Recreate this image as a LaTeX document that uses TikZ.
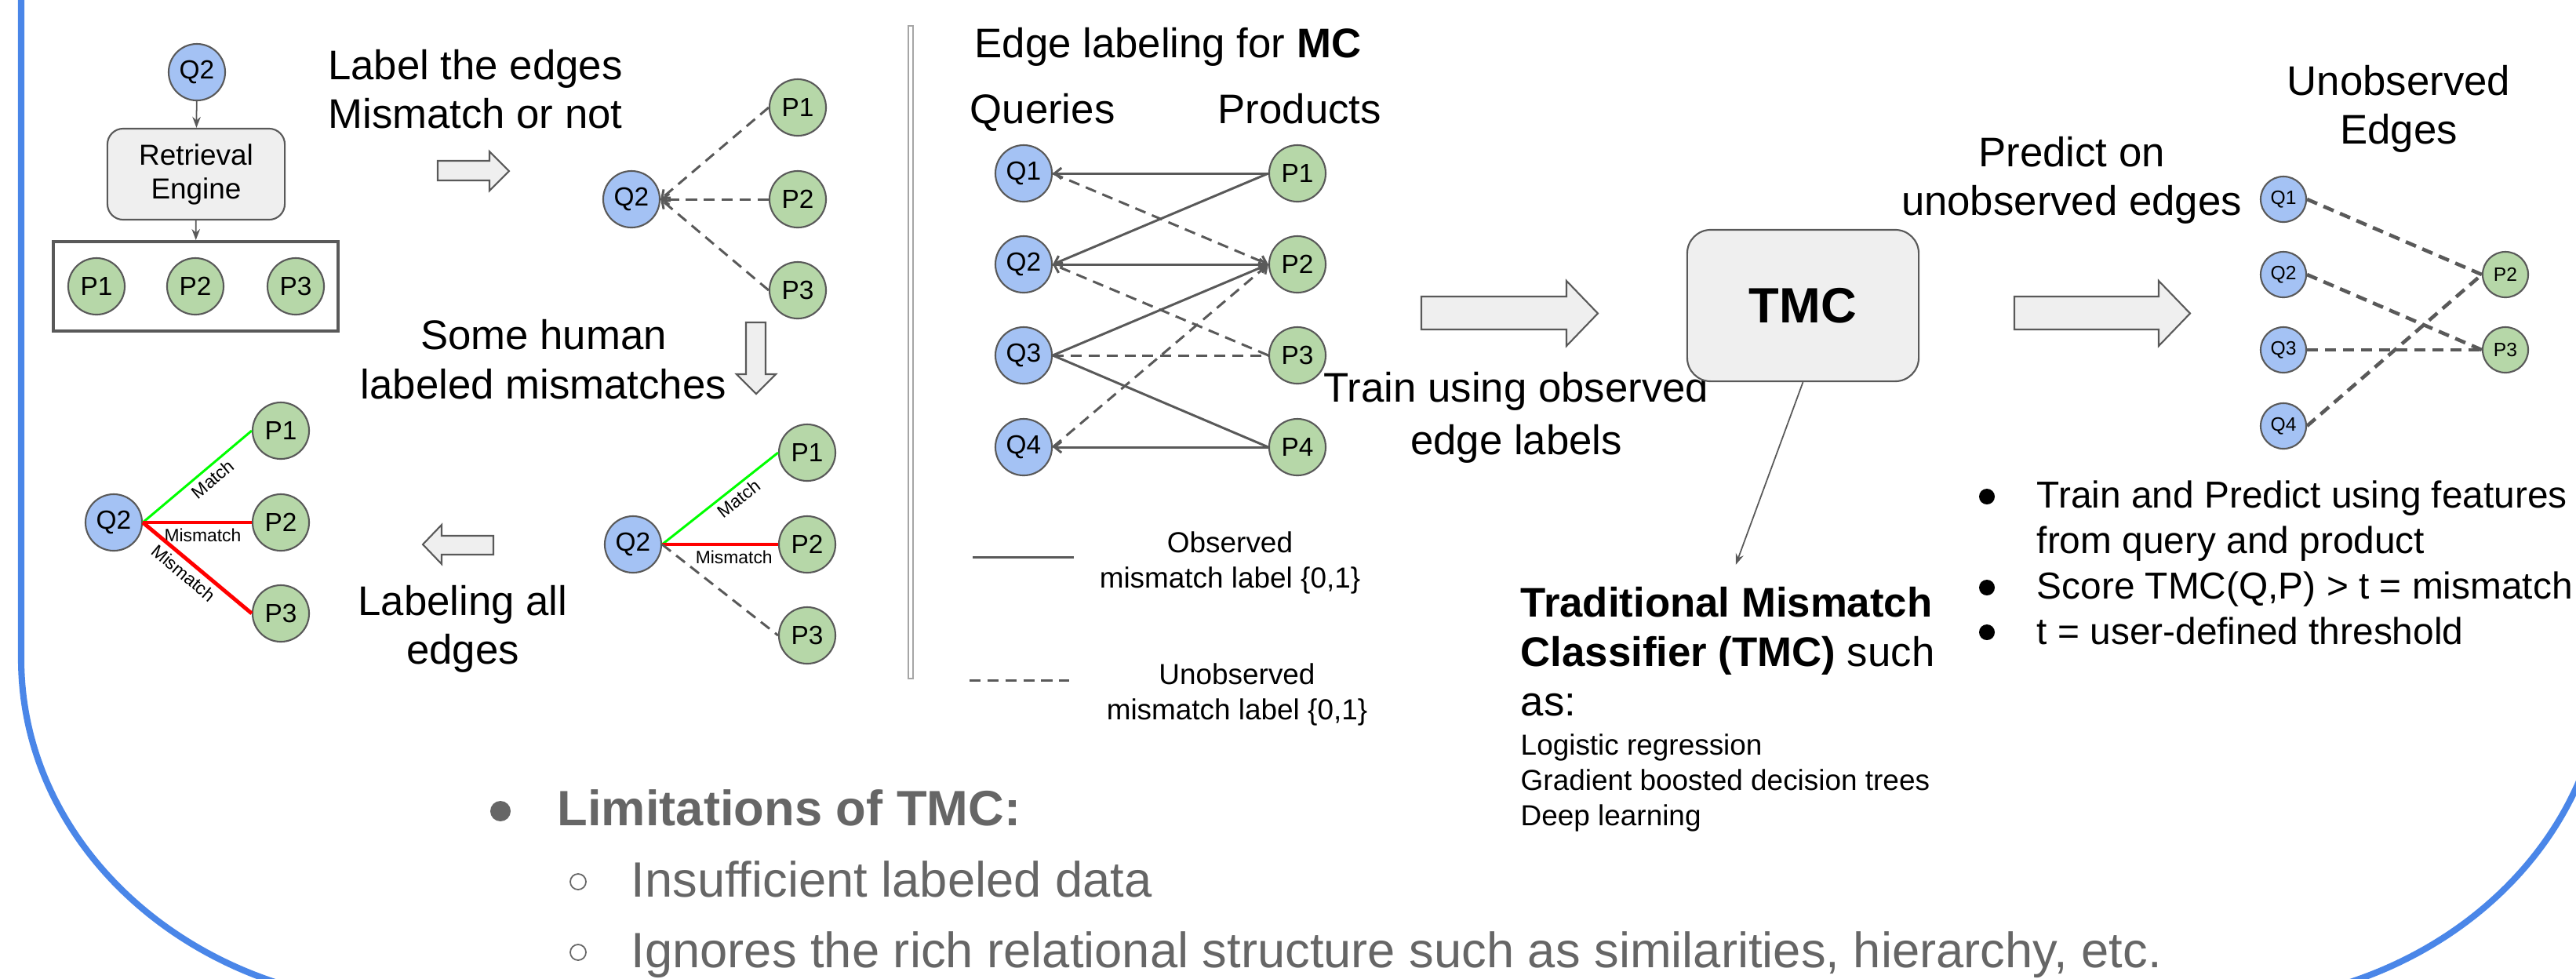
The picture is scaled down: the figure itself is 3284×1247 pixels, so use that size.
\documentclass[tikz,border=0pt]{standalone}
\usepackage{fontspec}
\setmainfont{Liberation Sans}
\usetikzlibrary{calc,arrows.meta}

\definecolor{qblue}{HTML}{A4C2F4}
\definecolor{pgreen}{HTML}{B6D7A8}
\definecolor{edgegray}{HTML}{595959}
\definecolor{boxgray}{HTML}{EFEFEF}
\definecolor{frameblue}{HTML}{4A86E8}
\definecolor{textgray}{HTML}{666666}
\definecolor{matchgreen}{HTML}{00FF00}
\definecolor{mismatchred}{HTML}{FF0000}

\tikzstyle{qnode} = [circle, draw=edgegray, fill=qblue, line width=0.6pt, minimum size=0.72cm, inner sep=0pt, font=\fontsize{9.5}{11}\selectfont]
\tikzstyle{pnode} = [qnode, fill=pgreen]
\tikzstyle{smallq} = [qnode, minimum size=0.58cm, font=\fontsize{7}{8}\selectfont]
\tikzstyle{smallp} = [smallq, fill=pgreen]
\tikzstyle{bigtext} = [align=center, inner sep=0pt, font=\fontsize{15}{17.6}\selectfont]
\tikzstyle{legendtext} = [align=center, inner sep=0pt, font=\fontsize{10.5}{12.8}\selectfont]
\tikzstyle{qpedge} = [draw=edgegray, line width=0.85pt]
\tikzstyle{dashedge} = [qpedge, dash pattern=on 4pt off 2.5pt]
\tikzstyle{barb} = [-{Straight Barb[length=2.5pt,width=4pt]}]
\tikzstyle{matchline} = [draw=matchgreen, line width=0.85pt]
\tikzstyle{mismatchline} = [draw=mismatchred, line width=1.4pt]
\tikzstyle{blockarrow} = [draw=edgegray, fill=boxgray, line width=0.6pt, line join=miter]
\tikzstyle{thinarrow} = [draw=edgegray, line width=0.5pt, -{Stealth[length=4pt,width=3pt]}]
\tikzstyle{edgelabel} = [font=\fontsize{6.5}{7}\selectfont, text=black, sloped, below=1.5pt, inner sep=0pt]
\tikzstyle{graytext} = [anchor=base west, inner sep=0pt, text=textgray, font=\fontsize{18}{21}\selectfont]

\begin{document}
\begin{tikzpicture}[x=0.01cm, y=0.01cm]
\useasboundingbox (0,0) rectangle (3284,-1247);

% outer frame
\draw[frameblue, line width=2.3pt] (27,10) -- (27,-840)
    arc[start angle=180, end angle=270, x radius=5cm, y radius=4.4cm] -- (2820,-1280)
    arc[start angle=270, end angle=360, x radius=5cm, y radius=4.4cm] -- (3320,10);

% retrieval engine
\node[qnode] (rq) at (251,-92) {Q2};
\node[draw=edgegray, fill=boxgray, rounded corners=0.2cm, line width=0.6pt, minimum width=2.26cm, minimum height=1.16cm, align=center, font=\fontsize{10.5}{12.2}\selectfont] (reng) at (250,-222) {Retrieval\\Engine};
\node[draw=edgegray, line width=1.1pt, minimum width=3.63cm, minimum height=1.14cm] (cand) at (249.5,-365) {};
\node[pnode] (rp1) at (123,-365) {P1};
\node[pnode] (rp2) at (249,-365) {P2};
\node[pnode] (rp3) at (377,-365) {P3};
\draw[thinarrow] (rq) -- (reng);
\draw[thinarrow] (reng) -- (cand);

% block arrows
\draw[blockarrow] (558,-205) -- (624,-205) -- (624,-193) -- (649,-218) -- (624,-243) -- (624,-230) -- (558,-230) -- cycle;
\draw[blockarrow] (951,-411) -- (976,-411) -- (976,-477) -- (989,-477) -- (964,-502) -- (939,-477) -- (951,-477) -- cycle;
\draw[blockarrow] (629,-683) -- (563,-683) -- (563,-669) -- (539,-694) -- (563,-719) -- (563,-707) -- (629,-707) -- cycle;
\draw[blockarrow] (1812,-378) -- (1997,-378) -- (1997,-358) -- (2037,-399.5) -- (1997,-441) -- (1997,-420) -- (1812,-420) -- cycle;
\draw[blockarrow] (2568,-378) -- (2752,-378) -- (2752,-358) -- (2792,-399.5) -- (2752,-441) -- (2752,-420) -- (2568,-420) -- cycle;

\node[bigtext] (labeltxt) at (606,-113.5) {Label the edges\\Mismatch or not};
\node[bigtext, font=\fontsize{15}{17.9}\selectfont] (humantxt) at (693,-458) {Some human\\labeled mismatches};
\node[bigtext] (alltxt) at (590,-801.5) {Labeling all\\edges};

% all edges unlabeled
\node[qnode] (aq2) at (805,-254) {Q2};
\node[pnode] (ap1) at (1017,-137) {P1};
\node[pnode] (ap2) at (1017,-254) {P2};
\node[pnode] (ap3) at (1017,-370) {P3};
\foreach \p in {ap1,ap2,ap3}
    \draw[dashedge, barb] (\p.west) -- (aq2.east);

% some human labels
\node[qnode] (hq2) at (807,-694) {Q2};
\node[pnode] (hp1) at (1029,-577) {P1};
\node[pnode] (hp2) at (1029,-694) {P2};
\node[pnode] (hp3) at (1029,-810) {P3};
\draw[matchline] (hq2.east) -- node[edgelabel, pos=0.6] {Match} (hp1.west);
\draw[mismatchline] (hq2.east) -- node[edgelabel, pos=0.62] {Mismatch} (hp2.west);
\draw[dashedge] (hq2.east) -- (hp3.west);

% all labeled
\node[qnode] (lq2) at (145,-666) {Q2};
\node[pnode] (lp1) at (358,-549) {P1};
\node[pnode] (lp2) at (358,-666) {P2};
\node[pnode] (lp3) at (358,-782) {P3};
\draw[matchline] (lq2.east) -- node[edgelabel, pos=0.57] {Match} (lp1.west);
\draw[mismatchline] (lq2.east) -- node[edgelabel, pos=0.55] {Mismatch} (lp2.west);
\draw[mismatchline] (lq2.east) -- node[edgelabel, pos=0.45] {Mismatch} (lp3.west);

% separator
\draw[gray!70, fill=white, line width=0.5pt] (1158,-33) rectangle (1164,-865);

% edge labeling for MC
\node[anchor=base west, inner sep=0pt, font=\fontsize{15}{18}\selectfont] (mctitle) at (1242,-73) {Edge labeling for \textbf{MC}};
\node[anchor=base west, inner sep=0pt, font=\fontsize{15}{18}\selectfont] (querytxt) at (1236,-157) {Queries};
\node[anchor=base west, inner sep=0pt, font=\fontsize{15}{18}\selectfont] (prodtxt) at (1552,-157) {Products};
\foreach \i/\y in {1/221,2/337,3/453,4/570} {
    \node[qnode] (q\i) at (1305,-\y) {Q\i};
    \node[pnode] (p\i) at (1654,-\y) {P\i};
}
\draw[qpedge, barb] (p1.west) -- (q1.east);
\draw[qpedge, barb] (p1.west) -- (q2.east);
\draw[qpedge, barb] (q2.east) -- (p2.west);
\draw[qpedge, barb] (q3.east) -- (p2.west);
\draw[qpedge] (q3.east) -- (p4.west);
\draw[qpedge, barb] (p4.west) -- (q4.east);
\draw[dashedge, barb] (q1.east) -- (p2.west);
\draw[dashedge, barb] (p3.west) -- (q2.east);
\draw[dashedge] (q3.east) -- (p3.west);
\draw[dashedge, barb] (q4.east) -- (p2.west);

% legend
\draw[qpedge] (1240,-710) -- (1369,-710);
\draw[dashedge] (1236,-867) -- (1363,-867);
\node[legendtext] (obstxt) at (1568,-717) {Observed\\mismatch label \{0,1\}};
\node[legendtext] (unobstxt) at (1577,-885.5) {Unobserved\\mismatch label \{0,1\}};

\node[bigtext, font=\fontsize{15}{19}\selectfont] (traintxt) at (1933,-532.5) {Train using observed\\edge labels};

% TMC
\node[draw=edgegray, fill=boxgray, rounded corners=0.3cm, line width=0.6pt, minimum width=2.95cm, minimum height=1.93cm, font=\fontsize{18}{20}\selectfont\bfseries] (tmc) at (2298.5,-389.5) {TMC};
\node[anchor=north west, align=left, inner sep=0pt, font=\fontsize{15}{17.9}\selectfont] (tmcdesc) at (1938,-748) {\textbf{Traditional Mismatch}\\\textbf{Classifier (TMC)} such\\as:};
\node[anchor=north west, align=left, inner sep=0pt, font=\fontsize{10.5}{12.8}\selectfont] (modeltxt) at (1938,-935) {Logistic regression\\Gradient boosted decision trees\\Deep learning};
\draw[thinarrow, shorten >=0.3cm] (tmc.south) -- (tmcdesc.north);

% unobserved edges
\node[bigtext] (predtxt) at (2641,-230) {Predict on\\unobserved edges};
\node[bigtext] (unobstitle) at (3058,-139) {Unobserved\\Edges};
\foreach \i/\y in {1/254,2/350,3/446,4/543}
    \node[smallq] (uq\i) at (2911,-\y) {Q\i};
\node[smallp] (up2) at (3194,-350) {P2};
\node[smallp] (up3) at (3194,-446) {P3};
\draw[dashedge, line width=1.3pt] (uq1.east) -- (up2.west);
\draw[dashedge, line width=1.3pt] (uq2.east) -- (up3.west);
\draw[dashedge, line width=1.3pt] (uq3.east) -- (up3.west);
\draw[dashedge, line width=1.3pt] (uq4.east) -- (up2.west);

% rules
\node[anchor=north west, align=left, inner sep=0pt, font=\fontsize{13.6}{16.5}\selectfont] (rules) at (2596,-612) {Train and Predict using features\\from query and product\\Score TMC(Q,P) > t = mismatch\\t = user-defined threshold};
\foreach \y in {633,749,806}
    \fill (2533,-\y) circle (0.1cm);

% limitations
\fill[textgray] (638,-1034) circle (0.13cm);
\node[graytext, font=\fontsize{18}{21}\selectfont\bfseries] (limtxt) at (710,-1052) {Limitations of TMC:};
\draw[textgray, line width=0.5pt] (737,-1124) circle (0.1cm);
\node[graytext] (lim1) at (804,-1143) {Insufficient labeled data};
\draw[textgray, line width=0.5pt] (737,-1214) circle (0.1cm);
\node[graytext] (lim2) at (804,-1233) {Ignores the rich relational structure such as similarities, hierarchy, etc.};
\end{tikzpicture}
\end{document}
